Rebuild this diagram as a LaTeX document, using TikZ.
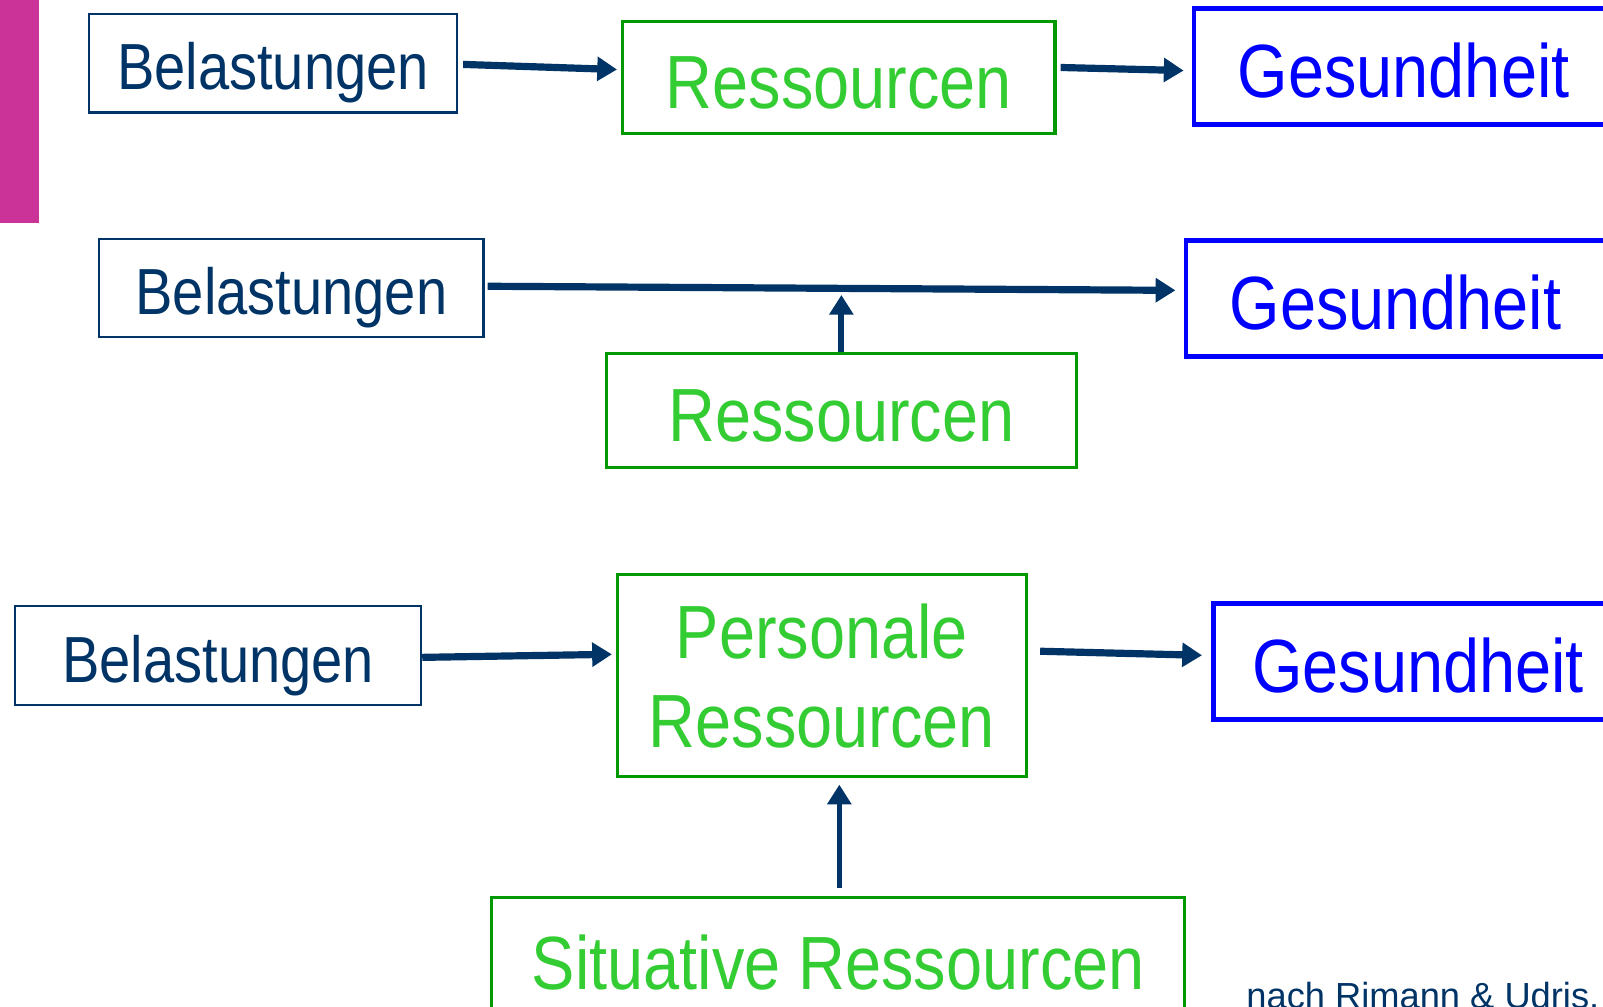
\documentclass[tikz,border=0pt]{standalone}
\usepackage{fontspec}
\setmainfont{Liberation Sans}
\newfontfamily\schmal{Liberation Sans}[FakeStretch=0.86]
\usetikzlibrary{arrows.meta,calc}
\definecolor{navy}{HTML}{003366}
\definecolor{gruenrand}{HTML}{009900}
\definecolor{gruentext}{HTML}{33CC33}
\definecolor{blau}{HTML}{0000FF}
\definecolor{balken}{HTML}{CC3399}
\tikzset{
	lastbox/.style={draw=navy, line width=1.2pt, text=navy, inner sep=0pt, text height=1.04cm, text depth=0pt, font=\schmal\fontsize{36.3}{42}\selectfont},
	resbox/.style={draw=gruenrand, line width=1.7pt, text=gruentext, inner sep=0pt, align=center, font=\schmal\fontsize{42}{49.5}\selectfont},
	gesbox/.style={draw=blau, line width=2.6pt, text=blau, inner sep=0pt, font=\schmal\fontsize{42}{49.5}\selectfont},
	zeile/.style={text height=1.2cm, text depth=0pt},
	pfeil/.style={navy, line width=4pt, -{Triangle[length=11pt,width=13pt]}}
}
\begin{document}
\begin{tikzpicture}[x=0.02cm, y=-0.02cm]
				\useasboundingbox (0,0) rectangle (1568,985);
				\clip (0,0) rectangle (1568,985);
				\fill[balken] (0,0) rectangle (38,218);
				\node[lastbox, minimum width=7.2cm, minimum height=1.92cm] (last1) at (267,62) {Belastungen};
				\node[resbox, zeile, minimum width=8.46cm, minimum height=2.2cm] (res1) at (820.5,76) {Ressourcen};
				\node[gesbox, zeile, minimum width=8.2cm, minimum height=2.28cm] (ges1) at (1373,65) {Gesundheit};
				\draw[pfeil] ($(last1.east)+(5,1)$) -- ($(res1.west)+(-4,-8)$);
				\draw[pfeil] ($(res1.east)+(4,-10)$) -- ($(ges1.west)+(-8,4)$);
				\node[lastbox, minimum width=7.52cm, minimum height=1.92cm] (last2) at (285,282) {Belastungen};
				\node[resbox, zeile, minimum width=9.2cm, minimum height=2.22cm] (res2) at (823,401.5) {Ressourcen};
				\node[gesbox, zeile, minimum width=8.2cm, minimum height=2.28cm] (ges2) at (1365,292) {Gesundheit};
				\draw[pfeil] ($(last2.east)+(3,-2)$) -- ($(ges2.west)+(-8,-8)$);
				\draw[pfeil, line width=3.4pt] (res2.north) -- ($(res2.north)+(0,-56)$);
				\node[lastbox, minimum width=7.94cm, minimum height=1.94cm] (last3) at (213.5,641.5) {Belastungen};
				\node[resbox, minimum width=8cm, minimum height=3.96cm] (pers) at (804,661) {Personale\\Ressourcen};
				\node[gesbox, zeile, minimum width=8cm, minimum height=2.28cm] (ges3) at (1387,647) {Gesundheit};
				\node[resbox, zeile, minimum width=13.56cm, minimum height=2.4cm] (sit) at (820,938) {Situative Ressourcen};
				\draw[pfeil] ($(last3.east)+(0,1.5)$) -- ($(pers.west)+(-4,-21)$);
				\draw[pfeil] ($(pers.east)+(12,-24)$) -- ($(ges3.west)+(-9,-6)$);
				\draw[pfeil, line width=2.8pt] ($(sit.north)+(1,-8)$) -- ($(sit.north |- pers.south)+(1,6)$);
				\node[anchor=base west, text=navy, font=\fontsize{20.2}{24}\selectfont] (quelle) at (1213,986) {nach Rimann \& Udris.};
\end{tikzpicture}
\end{document}
